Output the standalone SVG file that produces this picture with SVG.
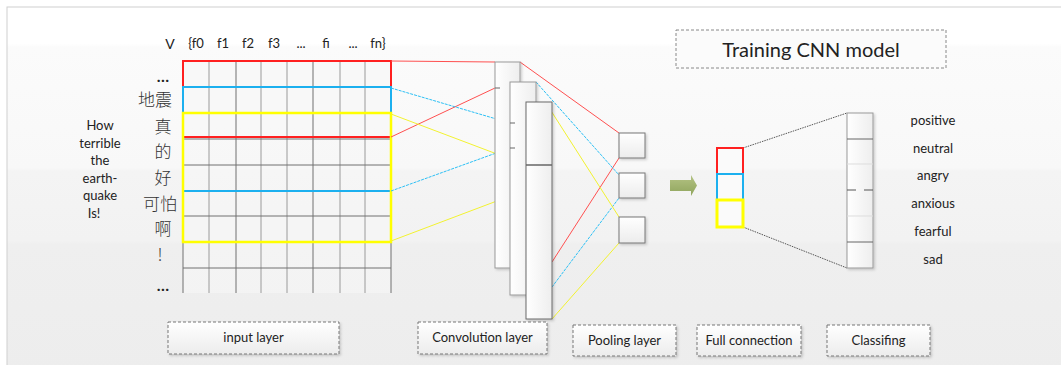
<svg xmlns="http://www.w3.org/2000/svg" width="1061" height="365" viewBox="0 0 1061 365">
<defs>
<linearGradient id="bg" x1="0" y1="0" x2="0" y2="1">
<stop offset="0" stop-color="#ffffff"/>
<stop offset="0.1" stop-color="#ffffff"/>
<stop offset="0.11" stop-color="#fbfbfb"/>
<stop offset="0.44" stop-color="#f8f8f8"/>
<stop offset="0.45" stop-color="#f4f4f4"/>
<stop offset="0.64" stop-color="#f2f2f2"/>
<stop offset="0.65" stop-color="#efefef"/>
<stop offset="1" stop-color="#ededed"/>
</linearGradient>
<linearGradient id="cell" x1="0" y1="0" x2="0" y2="1">
<stop offset="0" stop-color="#ffffff"/>
<stop offset="1" stop-color="#ececec"/>
</linearGradient>
<linearGradient id="col" x1="0" y1="0" x2="1" y2="0">
<stop offset="0" stop-color="#ffffff"/>
<stop offset="1" stop-color="#eeeeee"/>
</linearGradient>
<linearGradient id="arr" x1="0" y1="0" x2="0" y2="1">
<stop offset="0" stop-color="#b4c384"/>
<stop offset="1" stop-color="#8fa45c"/>
</linearGradient>
<filter id="sh" x="-20%" y="-20%" width="140%" height="140%">
<feDropShadow dx="1.5" dy="1.5" stdDeviation="1" flood-color="#000" flood-opacity="0.18"/>
</filter>
<style>
text{font-family:Lato,"Liberation Sans",sans-serif;fill:#222}
.zh{font-family:"Noto Sans CJK SC","Noto Sans CJK JP",sans-serif;font-size:17px;fill:#333;font-weight:300}
.en{font-size:13px;text-anchor:middle}
.hd{font-size:13px;text-anchor:middle}
.lab{font-size:13px;text-anchor:middle}
.gl{stroke:#9a9a9a;stroke-width:1;fill:none}
.gd{stroke:#707070;stroke-width:1;fill:none}
.box{fill:url(#cell);stroke:#777;stroke-width:1}
.dash{fill:url(#cell);stroke:#777;stroke-width:1;stroke-dasharray:3 2}
.r{stroke:#ff5050;stroke-width:1;fill:none}
.b{stroke:#2cc0f5;stroke-width:1;fill:none;stroke-dasharray:3 1}
.y{stroke:#f2f230;stroke-width:1;fill:none}
</style>
</defs>

<rect x="7" y="7" width="1060" height="365" fill="url(#bg)" stroke="#cfcfcf" stroke-width="1"/>

<g id="title">
<rect x="676" y="30" width="270" height="38" fill="#fbfbfb" stroke="#888" stroke-dasharray="3 2"/>
<text x="811" y="57" font-size="20" text-anchor="middle">Training CNN model</text>
</g>

<g id="sentence-en">
<text class="en" x="100" y="130">How</text>
<text class="en" x="100" y="147.5">terrible</text>
<text class="en" x="100" y="165">the</text>
<text class="en" x="100" y="182.5">earth-</text>
<text class="en" x="100" y="200">quake</text>
<text class="en" x="94" y="218">Is!</text>
</g>

<g id="sentence-zh">
<text x="163" y="82" font-size="16" text-anchor="middle" font-weight="bold">…</text>
<text class="zh" x="155" y="106" text-anchor="middle">地震</text>
<text class="zh" x="163" y="133" text-anchor="middle">真</text>
<text class="zh" x="163" y="158" text-anchor="middle">的</text>
<text class="zh" x="163" y="184" text-anchor="middle">好</text>
<text class="zh" x="160" y="210" text-anchor="middle">可怕</text>
<text class="zh" x="163" y="235" text-anchor="middle">啊</text>
<text class="zh" x="160" y="261" text-anchor="middle">!</text>
<text x="163" y="291" font-size="16" text-anchor="middle" font-weight="bold">…</text>
</g>

<g id="header">
<text x="170" y="49" font-size="14" text-anchor="middle">V</text>
<text class="hd" x="196" y="48">{f0</text>
<text class="hd" x="223" y="48">f1</text>
<text class="hd" x="248" y="48">f2</text>
<text class="hd" x="274" y="48">f3</text>
<text class="hd" x="301" y="48">...</text>
<text class="hd" x="326" y="48">fi</text>
<text class="hd" x="353" y="48">...</text>
<text class="hd" x="378" y="48">fn}</text>
</g>

<g id="input-matrix">
<rect x="183" y="61" width="208" height="232" fill="#f7f7f7" opacity="0.6"/>
<path class="gl" d="M209 61V293M261 61V293M287 61V293M340 61V293M365 61V293"/>
<path class="gd" d="M183 61V293M236 61V293M313 61V293M391 61V293"/>
<path class="gd" d="M183 61H391M183 87H391M183 113H391M183 139H391M183 165H391M183 191H391M183 216H391M183 242H391M183 268H391"/>
<rect x="183" y="61" width="208" height="76" fill="none" stroke="#ff2020" stroke-width="2"/>
<rect x="183" y="87" width="208" height="104" fill="none" stroke="#1cb0ef" stroke-width="2"/>
<rect x="183" y="113" width="208" height="129" fill="none" stroke="#ffff00" stroke-width="2.5"/>
</g>

<g id="connectors">
<path class="r" d="M391 61L495 62"/>
<path class="r" d="M391 137L495 88"/>
<path class="b" d="M391 88L510 123"/>
<path class="b" d="M391 191L510 148"/>
<path class="y" d="M391 114L526 165"/>
<path class="y" d="M391 241L526 190"/>
<path class="r" d="M520 62L619 133"/>
<path class="r" d="M552 262L619 158"/>
<path class="b" d="M536 82L619 175"/>
<path class="b" d="M552 287L619 198"/>
<path class="y" d="M546 103L619 217"/>
<path class="y" d="M552 319L619 243"/>
<path d="M743 148L847 113M743 227L847 268" stroke="#555" stroke-width="1" stroke-dasharray="1.5 1" fill="none"/>
</g>

<g id="convolution">
<rect x="495" y="62" width="25" height="206" fill="url(#col)" stroke="#999" filter="url(#sh)"/>
<path d="M495 88H500" stroke="#666"/>
<rect x="510" y="82" width="26" height="213" fill="url(#col)" stroke="#999" filter="url(#sh)"/>
<path d="M510 123H515M510 148H515" stroke="#666"/>
<rect x="526" y="102" width="26" height="217" fill="url(#col)" stroke="#6a6a6a" filter="url(#sh)"/>
<path d="M526 165H552" stroke="#666" stroke-width="1.5"/>
</g>

<g id="pooling">
<rect x="619" y="133" width="26" height="25" class="box" filter="url(#sh)"/>
<rect x="619" y="173" width="26" height="25" class="box" filter="url(#sh)"/>
<rect x="619" y="217" width="26" height="26" class="box" filter="url(#sh)"/>
</g>

<g id="arrow">
<polygon points="670,180 691,180 691,175 697,185.5 691,196 691,191 670,191" fill="url(#arr)"/>
</g>

<g id="full-connection">
<rect x="717" y="148" width="26" height="26" fill="#fafafa" stroke="#ff2020" stroke-width="2"/>
<rect x="717" y="174" width="26" height="26" fill="#fafafa" stroke="#1cb0ef" stroke-width="2"/>
<rect x="717" y="200" width="26" height="27" fill="#fafafa" stroke="#ffff00" stroke-width="3"/>
</g>

<g id="classifier">
<rect x="847" y="113" width="26" height="155" fill="url(#col)" stroke="#999" filter="url(#sh)"/>
<path d="M847 139H873M847 242H873" stroke="#666"/>
<path d="M847 164H873M847 216H873" stroke="#ddd"/>
<path d="M847 190H856M864 190H873" stroke="#555"/>
</g>

<g id="classes">
<text class="lab" x="933" y="125">positive</text>
<text class="lab" x="933" y="153">neutral</text>
<text class="lab" x="933" y="180">angry</text>
<text class="lab" x="933" y="208">anxious</text>
<text class="lab" x="933" y="236">fearful</text>
<text class="lab" x="933" y="264">sad</text>
</g>

<g id="label-input">
<rect x="168" y="322" width="171" height="32" class="dash" filter="url(#sh)"/>
<text class="lab" x="253.5" y="342">input layer</text>
</g>
<g id="label-conv">
<rect x="418" y="322" width="129" height="32" class="dash" filter="url(#sh)"/>
<text class="lab" x="482.5" y="342">Convolution layer</text>
</g>
<g id="label-pool">
<rect x="573" y="325" width="103" height="31" class="dash" filter="url(#sh)"/>
<text class="lab" x="624.5" y="345">Pooling layer</text>
</g>
<g id="label-full">
<rect x="697" y="325" width="104" height="31" class="dash" filter="url(#sh)"/>
<text class="lab" x="749" y="345">Full connection</text>
</g>
<g id="label-class">
<rect x="827" y="325" width="103" height="31" class="dash" filter="url(#sh)"/>
<text class="lab" x="878.5" y="345">Classifing</text>
</g>
</svg>
